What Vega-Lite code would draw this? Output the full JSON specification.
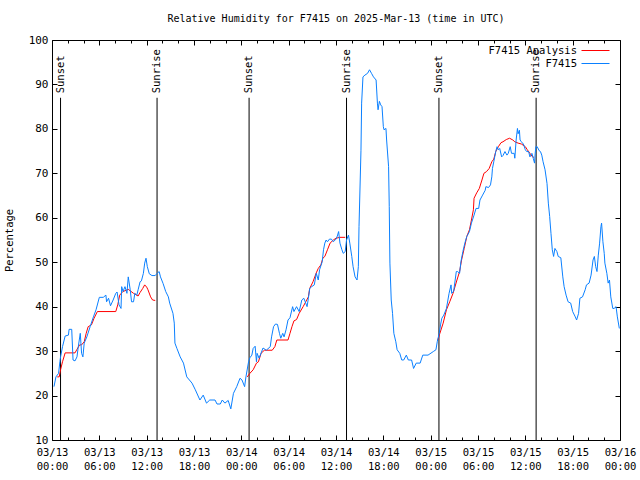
{
  "$schema": "https://vega.github.io/schema/vega-lite/v6.json",
  "width": 568,
  "height": 400,
  "autosize": "none",
  "padding": {"left": 52, "top": 40, "right": 20, "bottom": 40},
  "background": "white",
  "title": {"text": "Relative Humidity for F7415 on 2025-Mar-13 (time in UTC)", "font": "DejaVu Sans Mono", "fontSize": 10, "fontWeight": "normal", "anchor": "middle", "offset": 10, "color": "black"},
  "config": {
    "view": {"stroke": "black", "strokeWidth": 1},
    "font": "DejaVu Sans Mono",
    "axis": {"domain": false, "grid": false, "tickColor": "black", "tickWidth": 1, "labelColor": "black", "titleColor": "black", "labelFont": "DejaVu Sans Mono", "titleFont": "DejaVu Sans Mono", "labelFontSize": 10.5, "titleFontSize": 10.5, "titleFontWeight": "normal"},
    "legend": {"orient": "none", "legendX": 536, "legendY": 3, "title": null, "symbolType": "M-2,0L2,0", "symbolSize": 196, "symbolStrokeWidth": 1, "labelFont": "DejaVu Sans Mono", "labelFontSize": 10.5, "labelColor": "black", "rowPadding": -1, "padding": 0, "labelAlign": "right", "labelOffset": -26}
  },
  "datasets": {
    "sun": [
      {"t": "2025-03-13T01:05:00Z", "e": "Sunset"},
      {"t": "2025-03-13T13:19:00Z", "e": "Sunrise"},
      {"t": "2025-03-14T00:59:00Z", "e": "Sunset"},
      {"t": "2025-03-14T13:20:00Z", "e": "Sunrise"},
      {"t": "2025-03-15T01:03:00Z", "e": "Sunset"},
      {"t": "2025-03-15T13:22:00Z", "e": "Sunrise"}
    ],
    "rh": [
      {"s": "F7415 Analysis", "g": 1, "t": "2025-03-13T00:40:00Z", "v": 24.2},
      {"s": "F7415 Analysis", "g": 1, "t": "2025-03-13T00:55:00Z", "v": 24.2},
      {"s": "F7415 Analysis", "g": 1, "t": "2025-03-13T01:05:00Z", "v": 25.8},
      {"s": "F7415 Analysis", "g": 1, "t": "2025-03-13T01:20:00Z", "v": 27.6},
      {"s": "F7415 Analysis", "g": 1, "t": "2025-03-13T01:40:00Z", "v": 29.6},
      {"s": "F7415 Analysis", "g": 1, "t": "2025-03-13T02:40:00Z", "v": 29.6},
      {"s": "F7415 Analysis", "g": 1, "t": "2025-03-13T02:55:00Z", "v": 29.6},
      {"s": "F7415 Analysis", "g": 1, "t": "2025-03-13T03:10:00Z", "v": 30.4},
      {"s": "F7415 Analysis", "g": 1, "t": "2025-03-13T03:30:00Z", "v": 31.4},
      {"s": "F7415 Analysis", "g": 1, "t": "2025-03-13T03:45:00Z", "v": 31.4},
      {"s": "F7415 Analysis", "g": 1, "t": "2025-03-13T04:05:00Z", "v": 32.1},
      {"s": "F7415 Analysis", "g": 1, "t": "2025-03-13T04:20:00Z", "v": 34.0},
      {"s": "F7415 Analysis", "g": 1, "t": "2025-03-13T04:35:00Z", "v": 35.5},
      {"s": "F7415 Analysis", "g": 1, "t": "2025-03-13T05:00:00Z", "v": 35.9},
      {"s": "F7415 Analysis", "g": 1, "t": "2025-03-13T05:20:00Z", "v": 37.4},
      {"s": "F7415 Analysis", "g": 1, "t": "2025-03-13T05:45:00Z", "v": 38.9},
      {"s": "F7415 Analysis", "g": 1, "t": "2025-03-13T08:05:00Z", "v": 38.9},
      {"s": "F7415 Analysis", "g": 1, "t": "2025-03-13T08:20:00Z", "v": 40.4},
      {"s": "F7415 Analysis", "g": 1, "t": "2025-03-13T08:35:00Z", "v": 42.6},
      {"s": "F7415 Analysis", "g": 1, "t": "2025-03-13T08:50:00Z", "v": 43.1},
      {"s": "F7415 Analysis", "g": 1, "t": "2025-03-13T09:00:00Z", "v": 43.4},
      {"s": "F7415 Analysis", "g": 1, "t": "2025-03-13T09:40:00Z", "v": 43.9},
      {"s": "F7415 Analysis", "g": 1, "t": "2025-03-13T10:20:00Z", "v": 43.0},
      {"s": "F7415 Analysis", "g": 1, "t": "2025-03-13T10:55:00Z", "v": 42.4},
      {"s": "F7415 Analysis", "g": 1, "t": "2025-03-13T11:10:00Z", "v": 43.2},
      {"s": "F7415 Analysis", "g": 1, "t": "2025-03-13T11:30:00Z", "v": 44.1},
      {"s": "F7415 Analysis", "g": 1, "t": "2025-03-13T11:45:00Z", "v": 44.9},
      {"s": "F7415 Analysis", "g": 1, "t": "2025-03-13T12:00:00Z", "v": 44.4},
      {"s": "F7415 Analysis", "g": 1, "t": "2025-03-13T12:10:00Z", "v": 43.8},
      {"s": "F7415 Analysis", "g": 1, "t": "2025-03-13T12:30:00Z", "v": 42.2},
      {"s": "F7415 Analysis", "g": 1, "t": "2025-03-13T12:45:00Z", "v": 41.5},
      {"s": "F7415 Analysis", "g": 1, "t": "2025-03-13T13:05:00Z", "v": 41.4},
      {"s": "F7415 Analysis", "g": 2, "t": "2025-03-14T00:45:00Z", "v": 24.2},
      {"s": "F7415 Analysis", "g": 2, "t": "2025-03-14T01:05:00Z", "v": 25.0},
      {"s": "F7415 Analysis", "g": 2, "t": "2025-03-14T01:30:00Z", "v": 25.8},
      {"s": "F7415 Analysis", "g": 2, "t": "2025-03-14T01:55:00Z", "v": 27.3},
      {"s": "F7415 Analysis", "g": 2, "t": "2025-03-14T02:10:00Z", "v": 27.6},
      {"s": "F7415 Analysis", "g": 2, "t": "2025-03-14T02:30:00Z", "v": 29.5},
      {"s": "F7415 Analysis", "g": 2, "t": "2025-03-14T02:55:00Z", "v": 30.2},
      {"s": "F7415 Analysis", "g": 2, "t": "2025-03-14T03:55:00Z", "v": 30.2},
      {"s": "F7415 Analysis", "g": 2, "t": "2025-03-14T04:15:00Z", "v": 31.0},
      {"s": "F7415 Analysis", "g": 2, "t": "2025-03-14T04:30:00Z", "v": 32.5},
      {"s": "F7415 Analysis", "g": 2, "t": "2025-03-14T05:55:00Z", "v": 32.5},
      {"s": "F7415 Analysis", "g": 2, "t": "2025-03-14T06:10:00Z", "v": 34.0},
      {"s": "F7415 Analysis", "g": 2, "t": "2025-03-14T06:25:00Z", "v": 35.5},
      {"s": "F7415 Analysis", "g": 2, "t": "2025-03-14T06:40:00Z", "v": 36.8},
      {"s": "F7415 Analysis", "g": 2, "t": "2025-03-14T07:00:00Z", "v": 37.1},
      {"s": "F7415 Analysis", "g": 2, "t": "2025-03-14T07:20:00Z", "v": 38.5},
      {"s": "F7415 Analysis", "g": 2, "t": "2025-03-14T07:50:00Z", "v": 40.0},
      {"s": "F7415 Analysis", "g": 2, "t": "2025-03-14T08:10:00Z", "v": 41.1},
      {"s": "F7415 Analysis", "g": 2, "t": "2025-03-14T08:30:00Z", "v": 42.2},
      {"s": "F7415 Analysis", "g": 2, "t": "2025-03-14T08:40:00Z", "v": 44.1},
      {"s": "F7415 Analysis", "g": 2, "t": "2025-03-14T09:05:00Z", "v": 45.6},
      {"s": "F7415 Analysis", "g": 2, "t": "2025-03-14T09:30:00Z", "v": 47.6},
      {"s": "F7415 Analysis", "g": 2, "t": "2025-03-14T09:45:00Z", "v": 48.6},
      {"s": "F7415 Analysis", "g": 2, "t": "2025-03-14T10:05:00Z", "v": 49.4},
      {"s": "F7415 Analysis", "g": 2, "t": "2025-03-14T10:20:00Z", "v": 50.9},
      {"s": "F7415 Analysis", "g": 2, "t": "2025-03-14T10:35:00Z", "v": 51.3},
      {"s": "F7415 Analysis", "g": 2, "t": "2025-03-14T10:55:00Z", "v": 52.8},
      {"s": "F7415 Analysis", "g": 2, "t": "2025-03-14T11:15:00Z", "v": 54.3},
      {"s": "F7415 Analysis", "g": 2, "t": "2025-03-14T11:40:00Z", "v": 55.0},
      {"s": "F7415 Analysis", "g": 2, "t": "2025-03-14T12:00:00Z", "v": 55.4},
      {"s": "F7415 Analysis", "g": 2, "t": "2025-03-14T12:30:00Z", "v": 55.6},
      {"s": "F7415 Analysis", "g": 2, "t": "2025-03-14T13:10:00Z", "v": 55.6},
      {"s": "F7415 Analysis", "g": 3, "t": "2025-03-15T00:55:00Z", "v": 32.5},
      {"s": "F7415 Analysis", "g": 3, "t": "2025-03-15T01:10:00Z", "v": 34.0},
      {"s": "F7415 Analysis", "g": 3, "t": "2025-03-15T01:35:00Z", "v": 36.3},
      {"s": "F7415 Analysis", "g": 3, "t": "2025-03-15T02:00:00Z", "v": 39.3},
      {"s": "F7415 Analysis", "g": 3, "t": "2025-03-15T02:25:00Z", "v": 41.1},
      {"s": "F7415 Analysis", "g": 3, "t": "2025-03-15T02:50:00Z", "v": 43.0},
      {"s": "F7415 Analysis", "g": 3, "t": "2025-03-15T03:20:00Z", "v": 46.0},
      {"s": "F7415 Analysis", "g": 3, "t": "2025-03-15T03:40:00Z", "v": 47.9},
      {"s": "F7415 Analysis", "g": 3, "t": "2025-03-15T03:55:00Z", "v": 50.5},
      {"s": "F7415 Analysis", "g": 3, "t": "2025-03-15T04:15:00Z", "v": 53.1},
      {"s": "F7415 Analysis", "g": 3, "t": "2025-03-15T04:35:00Z", "v": 55.8},
      {"s": "F7415 Analysis", "g": 3, "t": "2025-03-15T04:55:00Z", "v": 57.3},
      {"s": "F7415 Analysis", "g": 3, "t": "2025-03-15T05:10:00Z", "v": 59.5},
      {"s": "F7415 Analysis", "g": 3, "t": "2025-03-15T05:25:00Z", "v": 61.8},
      {"s": "F7415 Analysis", "g": 3, "t": "2025-03-15T05:30:00Z", "v": 64.4},
      {"s": "F7415 Analysis", "g": 3, "t": "2025-03-15T05:50:00Z", "v": 65.6},
      {"s": "F7415 Analysis", "g": 3, "t": "2025-03-15T06:10:00Z", "v": 66.6},
      {"s": "F7415 Analysis", "g": 3, "t": "2025-03-15T06:30:00Z", "v": 68.5},
      {"s": "F7415 Analysis", "g": 3, "t": "2025-03-15T06:45:00Z", "v": 70.0},
      {"s": "F7415 Analysis", "g": 3, "t": "2025-03-15T07:05:00Z", "v": 70.4},
      {"s": "F7415 Analysis", "g": 3, "t": "2025-03-15T07:25:00Z", "v": 71.1},
      {"s": "F7415 Analysis", "g": 3, "t": "2025-03-15T07:45:00Z", "v": 72.6},
      {"s": "F7415 Analysis", "g": 3, "t": "2025-03-15T08:00:00Z", "v": 73.2},
      {"s": "F7415 Analysis", "g": 3, "t": "2025-03-15T08:15:00Z", "v": 74.9},
      {"s": "F7415 Analysis", "g": 3, "t": "2025-03-15T08:35:00Z", "v": 76.0},
      {"s": "F7415 Analysis", "g": 3, "t": "2025-03-15T08:55:00Z", "v": 76.9},
      {"s": "F7415 Analysis", "g": 3, "t": "2025-03-15T09:10:00Z", "v": 77.1},
      {"s": "F7415 Analysis", "g": 3, "t": "2025-03-15T09:35:00Z", "v": 77.6},
      {"s": "F7415 Analysis", "g": 3, "t": "2025-03-15T10:00:00Z", "v": 77.9},
      {"s": "F7415 Analysis", "g": 3, "t": "2025-03-15T10:25:00Z", "v": 77.5},
      {"s": "F7415 Analysis", "g": 3, "t": "2025-03-15T10:40:00Z", "v": 77.1},
      {"s": "F7415 Analysis", "g": 3, "t": "2025-03-15T11:05:00Z", "v": 76.8},
      {"s": "F7415 Analysis", "g": 3, "t": "2025-03-15T11:30:00Z", "v": 76.6},
      {"s": "F7415 Analysis", "g": 3, "t": "2025-03-15T12:00:00Z", "v": 76.0},
      {"s": "F7415 Analysis", "g": 3, "t": "2025-03-15T12:15:00Z", "v": 75.3},
      {"s": "F7415 Analysis", "g": 3, "t": "2025-03-15T12:35:00Z", "v": 74.5},
      {"s": "F7415 Analysis", "g": 3, "t": "2025-03-15T12:55:00Z", "v": 73.7},
      {"s": "F7415 Analysis", "g": 3, "t": "2025-03-15T13:05:00Z", "v": 73.6},
      {"s": "F7415", "g": 0, "t": "2025-03-13T00:15:00Z", "v": 22.0}, {"s": "F7415", "g": 0, "t": "2025-03-13T00:30:00Z", "v": 24.2}, {"s": "F7415", "g": 0, "t": "2025-03-13T00:50:00Z", "v": 25.0},
      {"s": "F7415", "g": 0, "t": "2025-03-13T01:00:00Z", "v": 27.6}, {"s": "F7415", "g": 0, "t": "2025-03-13T01:05:00Z", "v": 28.7}, {"s": "F7415", "g": 0, "t": "2025-03-13T01:20:00Z", "v": 31.0},
      {"s": "F7415", "g": 0, "t": "2025-03-13T01:40:00Z", "v": 33.4}, {"s": "F7415", "g": 0, "t": "2025-03-13T02:05:00Z", "v": 33.6}, {"s": "F7415", "g": 0, "t": "2025-03-13T02:10:00Z", "v": 34.9},
      {"s": "F7415", "g": 0, "t": "2025-03-13T02:30:00Z", "v": 34.9}, {"s": "F7415", "g": 0, "t": "2025-03-13T02:40:00Z", "v": 28.0}, {"s": "F7415", "g": 0, "t": "2025-03-13T02:55:00Z", "v": 27.8},
      {"s": "F7415", "g": 0, "t": "2025-03-13T03:10:00Z", "v": 28.7}, {"s": "F7415", "g": 0, "t": "2025-03-13T03:20:00Z", "v": 31.0}, {"s": "F7415", "g": 0, "t": "2025-03-13T03:35:00Z", "v": 34.0},
      {"s": "F7415", "g": 0, "t": "2025-03-13T03:45:00Z", "v": 29.5}, {"s": "F7415", "g": 0, "t": "2025-03-13T03:55:00Z", "v": 28.7}, {"s": "F7415", "g": 0, "t": "2025-03-13T04:05:00Z", "v": 31.8},
      {"s": "F7415", "g": 0, "t": "2025-03-13T04:25:00Z", "v": 33.2}, {"s": "F7415", "g": 0, "t": "2025-03-13T04:50:00Z", "v": 35.5}, {"s": "F7415", "g": 0, "t": "2025-03-13T05:15:00Z", "v": 37.7},
      {"s": "F7415", "g": 0, "t": "2025-03-13T05:35:00Z", "v": 39.3}, {"s": "F7415", "g": 0, "t": "2025-03-13T06:00:00Z", "v": 42.1}, {"s": "F7415", "g": 0, "t": "2025-03-13T06:30:00Z", "v": 42.1},
      {"s": "F7415", "g": 0, "t": "2025-03-13T06:50:00Z", "v": 42.6}, {"s": "F7415", "g": 0, "t": "2025-03-13T06:55:00Z", "v": 41.1}, {"s": "F7415", "g": 0, "t": "2025-03-13T07:10:00Z", "v": 41.9},
      {"s": "F7415", "g": 0, "t": "2025-03-13T07:25:00Z", "v": 40.2}, {"s": "F7415", "g": 0, "t": "2025-03-13T07:45:00Z", "v": 41.5}, {"s": "F7415", "g": 0, "t": "2025-03-13T08:05:00Z", "v": 43.0},
      {"s": "F7415", "g": 0, "t": "2025-03-13T08:15:00Z", "v": 43.3}, {"s": "F7415", "g": 0, "t": "2025-03-13T08:30:00Z", "v": 40.4}, {"s": "F7415", "g": 0, "t": "2025-03-13T08:45:00Z", "v": 39.6},
      {"s": "F7415", "g": 0, "t": "2025-03-13T08:50:00Z", "v": 44.5}, {"s": "F7415", "g": 0, "t": "2025-03-13T09:00:00Z", "v": 43.4}, {"s": "F7415", "g": 0, "t": "2025-03-13T09:15:00Z", "v": 44.5},
      {"s": "F7415", "g": 0, "t": "2025-03-13T09:30:00Z", "v": 43.0}, {"s": "F7415", "g": 0, "t": "2025-03-13T09:40:00Z", "v": 46.7}, {"s": "F7415", "g": 0, "t": "2025-03-13T09:55:00Z", "v": 43.8},
      {"s": "F7415", "g": 0, "t": "2025-03-13T10:05:00Z", "v": 41.1}, {"s": "F7415", "g": 0, "t": "2025-03-13T10:20:00Z", "v": 41.1}, {"s": "F7415", "g": 0, "t": "2025-03-13T10:30:00Z", "v": 43.0},
      {"s": "F7415", "g": 0, "t": "2025-03-13T10:45:00Z", "v": 42.6}, {"s": "F7415", "g": 0, "t": "2025-03-13T10:55:00Z", "v": 43.8}, {"s": "F7415", "g": 0, "t": "2025-03-13T11:10:00Z", "v": 45.6},
      {"s": "F7415", "g": 0, "t": "2025-03-13T11:20:00Z", "v": 45.8}, {"s": "F7415", "g": 0, "t": "2025-03-13T11:35:00Z", "v": 47.5}, {"s": "F7415", "g": 0, "t": "2025-03-13T11:45:00Z", "v": 49.8},
      {"s": "F7415", "g": 0, "t": "2025-03-13T11:55:00Z", "v": 50.9}, {"s": "F7415", "g": 0, "t": "2025-03-13T12:05:00Z", "v": 49.0}, {"s": "F7415", "g": 0, "t": "2025-03-13T12:20:00Z", "v": 47.4},
      {"s": "F7415", "g": 0, "t": "2025-03-13T12:40:00Z", "v": 47.0}, {"s": "F7415", "g": 0, "t": "2025-03-13T13:05:00Z", "v": 47.0}, {"s": "F7415", "g": 0, "t": "2025-03-13T13:20:00Z", "v": 47.5},
      {"s": "F7415", "g": 0, "t": "2025-03-13T13:35:00Z", "v": 47.9}, {"s": "F7415", "g": 0, "t": "2025-03-13T13:45:00Z", "v": 46.7}, {"s": "F7415", "g": 0, "t": "2025-03-13T14:05:00Z", "v": 45.2},
      {"s": "F7415", "g": 0, "t": "2025-03-13T14:25:00Z", "v": 43.4}, {"s": "F7415", "g": 0, "t": "2025-03-13T14:45:00Z", "v": 42.2}, {"s": "F7415", "g": 0, "t": "2025-03-13T14:55:00Z", "v": 40.8},
      {"s": "F7415", "g": 0, "t": "2025-03-13T15:20:00Z", "v": 38.5}, {"s": "F7415", "g": 0, "t": "2025-03-13T15:30:00Z", "v": 36.3}, {"s": "F7415", "g": 0, "t": "2025-03-13T15:35:00Z", "v": 31.8},
      {"s": "F7415", "g": 0, "t": "2025-03-13T15:50:00Z", "v": 30.6}, {"s": "F7415", "g": 0, "t": "2025-03-13T16:15:00Z", "v": 28.7}, {"s": "F7415", "g": 0, "t": "2025-03-13T16:40:00Z", "v": 27.3},
      {"s": "F7415", "g": 0, "t": "2025-03-13T17:05:00Z", "v": 24.2}, {"s": "F7415", "g": 0, "t": "2025-03-13T17:45:00Z", "v": 22.8}, {"s": "F7415", "g": 0, "t": "2025-03-13T18:10:00Z", "v": 21.3},
      {"s": "F7415", "g": 0, "t": "2025-03-13T18:45:00Z", "v": 19.0}, {"s": "F7415", "g": 0, "t": "2025-03-13T19:10:00Z", "v": 20.1}, {"s": "F7415", "g": 0, "t": "2025-03-13T19:35:00Z", "v": 18.3},
      {"s": "F7415", "g": 0, "t": "2025-03-13T20:00:00Z", "v": 19.0}, {"s": "F7415", "g": 0, "t": "2025-03-13T20:40:00Z", "v": 19.0}, {"s": "F7415", "g": 0, "t": "2025-03-13T20:55:00Z", "v": 18.1},
      {"s": "F7415", "g": 0, "t": "2025-03-13T21:20:00Z", "v": 18.1}, {"s": "F7415", "g": 0, "t": "2025-03-13T21:35:00Z", "v": 19.0}, {"s": "F7415", "g": 0, "t": "2025-03-13T21:55:00Z", "v": 18.3},
      {"s": "F7415", "g": 0, "t": "2025-03-13T22:20:00Z", "v": 18.9}, {"s": "F7415", "g": 0, "t": "2025-03-13T22:40:00Z", "v": 17.0}, {"s": "F7415", "g": 0, "t": "2025-03-13T23:00:00Z", "v": 20.5},
      {"s": "F7415", "g": 0, "t": "2025-03-13T23:25:00Z", "v": 22.0}, {"s": "F7415", "g": 0, "t": "2025-03-13T23:50:00Z", "v": 23.9}, {"s": "F7415", "g": 0, "t": "2025-03-14T00:05:00Z", "v": 23.5},
      {"s": "F7415", "g": 0, "t": "2025-03-14T00:25:00Z", "v": 22.0}, {"s": "F7415", "g": 0, "t": "2025-03-14T00:35:00Z", "v": 24.2}, {"s": "F7415", "g": 0, "t": "2025-03-14T00:55:00Z", "v": 27.6},
      {"s": "F7415", "g": 0, "t": "2025-03-14T01:05:00Z", "v": 28.5}, {"s": "F7415", "g": 0, "t": "2025-03-14T01:20:00Z", "v": 29.1}, {"s": "F7415", "g": 0, "t": "2025-03-14T01:30:00Z", "v": 30.6},
      {"s": "F7415", "g": 0, "t": "2025-03-14T01:45:00Z", "v": 31.1}, {"s": "F7415", "g": 0, "t": "2025-03-14T01:55:00Z", "v": 27.6}, {"s": "F7415", "g": 0, "t": "2025-03-14T02:00:00Z", "v": 29.5},
      {"s": "F7415", "g": 0, "t": "2025-03-14T02:15:00Z", "v": 28.4}, {"s": "F7415", "g": 0, "t": "2025-03-14T02:45:00Z", "v": 30.7}, {"s": "F7415", "g": 0, "t": "2025-03-14T03:10:00Z", "v": 30.2},
      {"s": "F7415", "g": 0, "t": "2025-03-14T03:40:00Z", "v": 31.0}, {"s": "F7415", "g": 0, "t": "2025-03-14T03:50:00Z", "v": 33.2}, {"s": "F7415", "g": 0, "t": "2025-03-14T04:05:00Z", "v": 35.5},
      {"s": "F7415", "g": 0, "t": "2025-03-14T04:20:00Z", "v": 36.1}, {"s": "F7415", "g": 0, "t": "2025-03-14T04:35:00Z", "v": 36.0}, {"s": "F7415", "g": 0, "t": "2025-03-14T04:50:00Z", "v": 34.0},
      {"s": "F7415", "g": 0, "t": "2025-03-14T05:00:00Z", "v": 32.9}, {"s": "F7415", "g": 0, "t": "2025-03-14T05:15:00Z", "v": 34.0}, {"s": "F7415", "g": 0, "t": "2025-03-14T05:25:00Z", "v": 33.2},
      {"s": "F7415", "g": 0, "t": "2025-03-14T05:40:00Z", "v": 34.8}, {"s": "F7415", "g": 0, "t": "2025-03-14T05:55:00Z", "v": 37.0}, {"s": "F7415", "g": 0, "t": "2025-03-14T06:10:00Z", "v": 37.5},
      {"s": "F7415", "g": 0, "t": "2025-03-14T06:30:00Z", "v": 40.0}, {"s": "F7415", "g": 0, "t": "2025-03-14T06:40:00Z", "v": 38.9}, {"s": "F7415", "g": 0, "t": "2025-03-14T07:00:00Z", "v": 40.0},
      {"s": "F7415", "g": 0, "t": "2025-03-14T07:20:00Z", "v": 38.9}, {"s": "F7415", "g": 0, "t": "2025-03-14T07:40:00Z", "v": 41.5}, {"s": "F7415", "g": 0, "t": "2025-03-14T07:55:00Z", "v": 41.9},
      {"s": "F7415", "g": 0, "t": "2025-03-14T08:10:00Z", "v": 40.8}, {"s": "F7415", "g": 0, "t": "2025-03-14T08:20:00Z", "v": 40.0}, {"s": "F7415", "g": 0, "t": "2025-03-14T08:30:00Z", "v": 41.9},
      {"s": "F7415", "g": 0, "t": "2025-03-14T08:40:00Z", "v": 44.1}, {"s": "F7415", "g": 0, "t": "2025-03-14T08:55:00Z", "v": 44.5}, {"s": "F7415", "g": 0, "t": "2025-03-14T09:15:00Z", "v": 44.9},
      {"s": "F7415", "g": 0, "t": "2025-03-14T09:30:00Z", "v": 47.5}, {"s": "F7415", "g": 0, "t": "2025-03-14T09:45:00Z", "v": 46.0}, {"s": "F7415", "g": 0, "t": "2025-03-14T09:55:00Z", "v": 48.3},
      {"s": "F7415", "g": 0, "t": "2025-03-14T10:15:00Z", "v": 50.1}, {"s": "F7415", "g": 0, "t": "2025-03-14T10:25:00Z", "v": 52.8}, {"s": "F7415", "g": 0, "t": "2025-03-14T10:35:00Z", "v": 54.3},
      {"s": "F7415", "g": 0, "t": "2025-03-14T10:45:00Z", "v": 55.0}, {"s": "F7415", "g": 0, "t": "2025-03-14T10:55:00Z", "v": 54.6}, {"s": "F7415", "g": 0, "t": "2025-03-14T11:10:00Z", "v": 55.2},
      {"s": "F7415", "g": 0, "t": "2025-03-14T11:25:00Z", "v": 55.2}, {"s": "F7415", "g": 0, "t": "2025-03-14T11:40:00Z", "v": 54.6}, {"s": "F7415", "g": 0, "t": "2025-03-14T12:00:00Z", "v": 55.2},
      {"s": "F7415", "g": 0, "t": "2025-03-14T12:10:00Z", "v": 55.9}, {"s": "F7415", "g": 0, "t": "2025-03-14T12:20:00Z", "v": 56.9}, {"s": "F7415", "g": 0, "t": "2025-03-14T12:30:00Z", "v": 54.3},
      {"s": "F7415", "g": 0, "t": "2025-03-14T12:45:00Z", "v": 52.8}, {"s": "F7415", "g": 0, "t": "2025-03-14T12:55:00Z", "v": 52.0}, {"s": "F7415", "g": 0, "t": "2025-03-14T13:10:00Z", "v": 52.4},
      {"s": "F7415", "g": 0, "t": "2025-03-14T13:20:00Z", "v": 55.0}, {"s": "F7415", "g": 0, "t": "2025-03-14T13:35:00Z", "v": 56.1}, {"s": "F7415", "g": 0, "t": "2025-03-14T13:45:00Z", "v": 54.3},
      {"s": "F7415", "g": 0, "t": "2025-03-14T14:00:00Z", "v": 51.3}, {"s": "F7415", "g": 0, "t": "2025-03-14T14:10:00Z", "v": 49.0}, {"s": "F7415", "g": 0, "t": "2025-03-14T14:25:00Z", "v": 46.7},
      {"s": "F7415", "g": 0, "t": "2025-03-14T14:40:00Z", "v": 46.0}, {"s": "F7415", "g": 0, "t": "2025-03-14T14:50:00Z", "v": 49.0}, {"s": "F7415", "g": 0, "t": "2025-03-14T14:55:00Z", "v": 58.0},
      {"s": "F7415", "g": 0, "t": "2025-03-14T15:10:00Z", "v": 75.2}, {"s": "F7415", "g": 0, "t": "2025-03-14T15:15:00Z", "v": 85.8}, {"s": "F7415", "g": 0, "t": "2025-03-14T15:25:00Z", "v": 91.7},
      {"s": "F7415", "g": 0, "t": "2025-03-14T15:40:00Z", "v": 92.1}, {"s": "F7415", "g": 0, "t": "2025-03-14T16:00:00Z", "v": 92.5}, {"s": "F7415", "g": 0, "t": "2025-03-14T16:15:00Z", "v": 93.3},
      {"s": "F7415", "g": 0, "t": "2025-03-14T16:30:00Z", "v": 92.5}, {"s": "F7415", "g": 0, "t": "2025-03-14T16:45:00Z", "v": 91.7}, {"s": "F7415", "g": 0, "t": "2025-03-14T17:05:00Z", "v": 91.0},
      {"s": "F7415", "g": 0, "t": "2025-03-14T17:15:00Z", "v": 85.8}, {"s": "F7415", "g": 0, "t": "2025-03-14T17:20:00Z", "v": 84.3}, {"s": "F7415", "g": 0, "t": "2025-03-14T17:30:00Z", "v": 86.2},
      {"s": "F7415", "g": 0, "t": "2025-03-14T17:40:00Z", "v": 85.4}, {"s": "F7415", "g": 0, "t": "2025-03-14T17:50:00Z", "v": 85.0}, {"s": "F7415", "g": 0, "t": "2025-03-14T18:00:00Z", "v": 80.5},
      {"s": "F7415", "g": 0, "t": "2025-03-14T18:05:00Z", "v": 79.8}, {"s": "F7415", "g": 0, "t": "2025-03-14T18:20:00Z", "v": 80.1}, {"s": "F7415", "g": 0, "t": "2025-03-14T18:25:00Z", "v": 77.5},
      {"s": "F7415", "g": 0, "t": "2025-03-14T18:40:00Z", "v": 71.5}, {"s": "F7415", "g": 0, "t": "2025-03-14T18:45:00Z", "v": 62.5}, {"s": "F7415", "g": 0, "t": "2025-03-14T18:50:00Z", "v": 49.8},
      {"s": "F7415", "g": 0, "t": "2025-03-14T19:00:00Z", "v": 41.5}, {"s": "F7415", "g": 0, "t": "2025-03-14T19:10:00Z", "v": 38.5}, {"s": "F7415", "g": 0, "t": "2025-03-14T19:20:00Z", "v": 34.0},
      {"s": "F7415", "g": 0, "t": "2025-03-14T19:35:00Z", "v": 32.1}, {"s": "F7415", "g": 0, "t": "2025-03-14T19:45:00Z", "v": 30.3}, {"s": "F7415", "g": 0, "t": "2025-03-14T20:05:00Z", "v": 29.5},
      {"s": "F7415", "g": 0, "t": "2025-03-14T20:20:00Z", "v": 28.0}, {"s": "F7415", "g": 0, "t": "2025-03-14T20:35:00Z", "v": 28.0}, {"s": "F7415", "g": 0, "t": "2025-03-14T20:55:00Z", "v": 29.1},
      {"s": "F7415", "g": 0, "t": "2025-03-14T21:10:00Z", "v": 28.0}, {"s": "F7415", "g": 0, "t": "2025-03-14T21:35:00Z", "v": 28.0}, {"s": "F7415", "g": 0, "t": "2025-03-14T21:50:00Z", "v": 26.1},
      {"s": "F7415", "g": 0, "t": "2025-03-14T22:10:00Z", "v": 27.3}, {"s": "F7415", "g": 0, "t": "2025-03-14T22:40:00Z", "v": 27.3}, {"s": "F7415", "g": 0, "t": "2025-03-14T23:00:00Z", "v": 29.1},
      {"s": "F7415", "g": 0, "t": "2025-03-14T23:40:00Z", "v": 29.1}, {"s": "F7415", "g": 0, "t": "2025-03-15T00:20:00Z", "v": 29.9}, {"s": "F7415", "g": 0, "t": "2025-03-15T00:40:00Z", "v": 30.3},
      {"s": "F7415", "g": 0, "t": "2025-03-15T00:50:00Z", "v": 32.1}, {"s": "F7415", "g": 0, "t": "2025-03-15T01:05:00Z", "v": 34.0}, {"s": "F7415", "g": 0, "t": "2025-03-15T01:15:00Z", "v": 35.9},
      {"s": "F7415", "g": 0, "t": "2025-03-15T01:25:00Z", "v": 37.4}, {"s": "F7415", "g": 0, "t": "2025-03-15T01:40:00Z", "v": 38.1}, {"s": "F7415", "g": 0, "t": "2025-03-15T02:00:00Z", "v": 39.6},
      {"s": "F7415", "g": 0, "t": "2025-03-15T02:20:00Z", "v": 43.0}, {"s": "F7415", "g": 0, "t": "2025-03-15T02:35:00Z", "v": 44.9}, {"s": "F7415", "g": 0, "t": "2025-03-15T02:40:00Z", "v": 43.0},
      {"s": "F7415", "g": 0, "t": "2025-03-15T02:55:00Z", "v": 43.5}, {"s": "F7415", "g": 0, "t": "2025-03-15T03:15:00Z", "v": 47.9}, {"s": "F7415", "g": 0, "t": "2025-03-15T03:25:00Z", "v": 47.9},
      {"s": "F7415", "g": 0, "t": "2025-03-15T03:40:00Z", "v": 47.5}, {"s": "F7415", "g": 0, "t": "2025-03-15T03:50:00Z", "v": 50.1}, {"s": "F7415", "g": 0, "t": "2025-03-15T04:05:00Z", "v": 52.4},
      {"s": "F7415", "g": 0, "t": "2025-03-15T04:20:00Z", "v": 54.3}, {"s": "F7415", "g": 0, "t": "2025-03-15T04:35:00Z", "v": 55.8}, {"s": "F7415", "g": 0, "t": "2025-03-15T04:55:00Z", "v": 56.9},
      {"s": "F7415", "g": 0, "t": "2025-03-15T05:10:00Z", "v": 58.8}, {"s": "F7415", "g": 0, "t": "2025-03-15T05:30:00Z", "v": 60.6}, {"s": "F7415", "g": 0, "t": "2025-03-15T05:45:00Z", "v": 62.1},
      {"s": "F7415", "g": 0, "t": "2025-03-15T06:05:00Z", "v": 62.1}, {"s": "F7415", "g": 0, "t": "2025-03-15T06:15:00Z", "v": 64.0}, {"s": "F7415", "g": 0, "t": "2025-03-15T06:35:00Z", "v": 65.1},
      {"s": "F7415", "g": 0, "t": "2025-03-15T06:55:00Z", "v": 66.2}, {"s": "F7415", "g": 0, "t": "2025-03-15T07:00:00Z", "v": 67.0}, {"s": "F7415", "g": 0, "t": "2025-03-15T07:20:00Z", "v": 66.8},
      {"s": "F7415", "g": 0, "t": "2025-03-15T07:35:00Z", "v": 67.4}, {"s": "F7415", "g": 0, "t": "2025-03-15T07:45:00Z", "v": 69.2}, {"s": "F7415", "g": 0, "t": "2025-03-15T07:50:00Z", "v": 71.1},
      {"s": "F7415", "g": 0, "t": "2025-03-15T08:00:00Z", "v": 72.6}, {"s": "F7415", "g": 0, "t": "2025-03-15T08:15:00Z", "v": 74.9}, {"s": "F7415", "g": 0, "t": "2025-03-15T08:25:00Z", "v": 76.0},
      {"s": "F7415", "g": 0, "t": "2025-03-15T08:35:00Z", "v": 75.3}, {"s": "F7415", "g": 0, "t": "2025-03-15T08:45:00Z", "v": 75.6}, {"s": "F7415", "g": 0, "t": "2025-03-15T09:00:00Z", "v": 73.7},
      {"s": "F7415", "g": 0, "t": "2025-03-15T09:10:00Z", "v": 74.0}, {"s": "F7415", "g": 0, "t": "2025-03-15T09:25:00Z", "v": 74.9}, {"s": "F7415", "g": 0, "t": "2025-03-15T09:40:00Z", "v": 74.1},
      {"s": "F7415", "g": 0, "t": "2025-03-15T09:50:00Z", "v": 74.5}, {"s": "F7415", "g": 0, "t": "2025-03-15T10:05:00Z", "v": 76.0}, {"s": "F7415", "g": 0, "t": "2025-03-15T10:15:00Z", "v": 74.5},
      {"s": "F7415", "g": 0, "t": "2025-03-15T10:35:00Z", "v": 74.5}, {"s": "F7415", "g": 0, "t": "2025-03-15T10:40:00Z", "v": 73.4}, {"s": "F7415", "g": 0, "t": "2025-03-15T10:50:00Z", "v": 77.5},
      {"s": "F7415", "g": 0, "t": "2025-03-15T11:00:00Z", "v": 80.1}, {"s": "F7415", "g": 0, "t": "2025-03-15T11:05:00Z", "v": 78.9}, {"s": "F7415", "g": 0, "t": "2025-03-15T11:15:00Z", "v": 79.7},
      {"s": "F7415", "g": 0, "t": "2025-03-15T11:20:00Z", "v": 77.5}, {"s": "F7415", "g": 0, "t": "2025-03-15T11:30:00Z", "v": 77.1}, {"s": "F7415", "g": 0, "t": "2025-03-15T11:45:00Z", "v": 76.6},
      {"s": "F7415", "g": 0, "t": "2025-03-15T12:00:00Z", "v": 75.3}, {"s": "F7415", "g": 0, "t": "2025-03-15T12:10:00Z", "v": 74.9}, {"s": "F7415", "g": 0, "t": "2025-03-15T12:25:00Z", "v": 74.9},
      {"s": "F7415", "g": 0, "t": "2025-03-15T12:35:00Z", "v": 73.7}, {"s": "F7415", "g": 0, "t": "2025-03-15T12:50:00Z", "v": 74.5}, {"s": "F7415", "g": 0, "t": "2025-03-15T13:00:00Z", "v": 73.4},
      {"s": "F7415", "g": 0, "t": "2025-03-15T13:10:00Z", "v": 72.3}, {"s": "F7415", "g": 0, "t": "2025-03-15T13:15:00Z", "v": 74.5}, {"s": "F7415", "g": 0, "t": "2025-03-15T13:20:00Z", "v": 76.0},
      {"s": "F7415", "g": 0, "t": "2025-03-15T13:30:00Z", "v": 76.0}, {"s": "F7415", "g": 0, "t": "2025-03-15T13:45:00Z", "v": 75.1}, {"s": "F7415", "g": 0, "t": "2025-03-15T13:55:00Z", "v": 74.9},
      {"s": "F7415", "g": 0, "t": "2025-03-15T14:05:00Z", "v": 74.1}, {"s": "F7415", "g": 0, "t": "2025-03-15T14:15:00Z", "v": 72.6}, {"s": "F7415", "g": 0, "t": "2025-03-15T14:30:00Z", "v": 70.8},
      {"s": "F7415", "g": 0, "t": "2025-03-15T14:45:00Z", "v": 67.7}, {"s": "F7415", "g": 0, "t": "2025-03-15T14:55:00Z", "v": 63.3}, {"s": "F7415", "g": 0, "t": "2025-03-15T15:05:00Z", "v": 60.3},
      {"s": "F7415", "g": 0, "t": "2025-03-15T15:15:00Z", "v": 56.5}, {"s": "F7415", "g": 0, "t": "2025-03-15T15:25:00Z", "v": 52.8}, {"s": "F7415", "g": 0, "t": "2025-03-15T15:35:00Z", "v": 51.3},
      {"s": "F7415", "g": 0, "t": "2025-03-15T15:45:00Z", "v": 53.1}, {"s": "F7415", "g": 0, "t": "2025-03-15T16:00:00Z", "v": 52.4}, {"s": "F7415", "g": 0, "t": "2025-03-15T16:10:00Z", "v": 51.3},
      {"s": "F7415", "g": 0, "t": "2025-03-15T16:30:00Z", "v": 51.0}, {"s": "F7415", "g": 0, "t": "2025-03-15T16:45:00Z", "v": 46.7}, {"s": "F7415", "g": 0, "t": "2025-03-15T16:55:00Z", "v": 44.5},
      {"s": "F7415", "g": 0, "t": "2025-03-15T17:10:00Z", "v": 42.6}, {"s": "F7415", "g": 0, "t": "2025-03-15T17:25:00Z", "v": 41.1}, {"s": "F7415", "g": 0, "t": "2025-03-15T17:45:00Z", "v": 40.8},
      {"s": "F7415", "g": 0, "t": "2025-03-15T18:00:00Z", "v": 38.9}, {"s": "F7415", "g": 0, "t": "2025-03-15T18:20:00Z", "v": 37.7}, {"s": "F7415", "g": 0, "t": "2025-03-15T18:30:00Z", "v": 37.0},
      {"s": "F7415", "g": 0, "t": "2025-03-15T18:45:00Z", "v": 38.5}, {"s": "F7415", "g": 0, "t": "2025-03-15T18:55:00Z", "v": 41.9}, {"s": "F7415", "g": 0, "t": "2025-03-15T19:15:00Z", "v": 42.2},
      {"s": "F7415", "g": 0, "t": "2025-03-15T19:35:00Z", "v": 43.8}, {"s": "F7415", "g": 0, "t": "2025-03-15T19:45:00Z", "v": 44.9}, {"s": "F7415", "g": 0, "t": "2025-03-15T20:05:00Z", "v": 45.3},
      {"s": "F7415", "g": 0, "t": "2025-03-15T20:20:00Z", "v": 47.1}, {"s": "F7415", "g": 0, "t": "2025-03-15T20:35:00Z", "v": 50.5}, {"s": "F7415", "g": 0, "t": "2025-03-15T20:45:00Z", "v": 51.3},
      {"s": "F7415", "g": 0, "t": "2025-03-15T20:55:00Z", "v": 49.0}, {"s": "F7415", "g": 0, "t": "2025-03-15T21:05:00Z", "v": 47.9}, {"s": "F7415", "g": 0, "t": "2025-03-15T21:15:00Z", "v": 51.6},
      {"s": "F7415", "g": 0, "t": "2025-03-15T21:25:00Z", "v": 54.3}, {"s": "F7415", "g": 0, "t": "2025-03-15T21:35:00Z", "v": 58.0}, {"s": "F7415", "g": 0, "t": "2025-03-15T21:40:00Z", "v": 58.8},
      {"s": "F7415", "g": 0, "t": "2025-03-15T21:50:00Z", "v": 54.6}, {"s": "F7415", "g": 0, "t": "2025-03-15T22:00:00Z", "v": 52.0}, {"s": "F7415", "g": 0, "t": "2025-03-15T22:05:00Z", "v": 49.8},
      {"s": "F7415", "g": 0, "t": "2025-03-15T22:20:00Z", "v": 47.5}, {"s": "F7415", "g": 0, "t": "2025-03-15T22:30:00Z", "v": 45.3}, {"s": "F7415", "g": 0, "t": "2025-03-15T22:40:00Z", "v": 46.0},
      {"s": "F7415", "g": 0, "t": "2025-03-15T22:50:00Z", "v": 42.2}, {"s": "F7415", "g": 0, "t": "2025-03-15T23:05:00Z", "v": 39.6}, {"s": "F7415", "g": 0, "t": "2025-03-15T23:15:00Z", "v": 39.6},
      {"s": "F7415", "g": 0, "t": "2025-03-15T23:30:00Z", "v": 40.0}, {"s": "F7415", "g": 0, "t": "2025-03-15T23:40:00Z", "v": 37.7}, {"s": "F7415", "g": 0, "t": "2025-03-15T23:55:00Z", "v": 35.1}
    ]
  },
  "layer": [
    {
      "layer": [
        {
          "data": {"name": "sun"},
          "mark": {"type": "rule", "color": "black", "strokeWidth": 1},
          "encoding": {
            "x": {"field": "t", "type": "temporal", "scale": {"type": "utc", "domain": [{"year": 2025, "month": 3, "date": 13, "utc": true}, {"year": 2025, "month": 3, "date": 16, "utc": true}]}},
            "y": {"datum": 10, "type": "quantitative", "scale": {"domain": [10, 100], "nice": false, "zero": false}},
            "y2": {"datum": 87}
          }
        },
        {
          "data": {"name": "sun"},
          "mark": {"type": "text", "angle": 270, "align": "left", "baseline": "middle", "font": "DejaVu Sans Mono", "fontSize": 10.5, "color": "black"},
          "encoding": {
            "x": {"field": "t", "type": "temporal"},
            "y": {"datum": 88, "type": "quantitative"},
            "text": {"field": "e"}
          }
        },
        {
          "data": {"name": "rh"},
          "transform": [{"filter": "datum.s == 'F7415 Analysis'"}],
          "mark": {"type": "line", "strokeWidth": 1},
          "encoding": {
            "x": {"field": "t", "type": "temporal", "axis": {"orient": "bottom", "title": null,
              "values": [1741824000000, 1741831200000, 1741838400000, 1741845600000, 1741852800000, 1741860000000, 1741867200000, 1741874400000, 1741881600000, 1741888800000, 1741896000000, 1741903200000, 1741910400000, 1741917600000, 1741924800000, 1741932000000, 1741939200000, 1741946400000, 1741953600000, 1741960800000, 1741968000000, 1741975200000, 1741982400000, 1741989600000, 1741996800000, 1742004000000, 1742011200000, 1742018400000, 1742025600000, 1742032800000, 1742040000000, 1742047200000, 1742054400000, 1742061600000, 1742068800000, 1742076000000, 1742083200000],
              "tickCount": 40,
              "labelExpr": "utchours(datum.value) % 6 == 0 ? [utcFormat(datum.value, '%m/%d'), utcFormat(datum.value, '%H:%M')] : ''",
              "tickSize": {"condition": {"test": "utchours(datum.value) % 6 == 0", "value": -5}, "value": -3},
              "labelPadding": 12, "labelFlush": false, "labelOverlap": false, "labelBound": false, "labelLineHeight": 14, "labelBaseline": "top"}},
            "y": {"field": "v", "type": "quantitative", "axis": {"orient": "left", "title": "Percentage", "values": [10, 20, 30, 40, 50, 60, 70, 80, 90, 100], "tickCount": 12, "tickSize": -5, "labelPadding": 9, "labelFontSize": 11, "labelFlush": false, "titlePadding": 14}},
            "color": {"field": "s", "type": "nominal", "scale": {"domain": ["F7415 Analysis", "F7415"], "range": ["#ff0000", "#0a80ff"]}},
            "detail": {"field": "g"}
          }
        }
      ]
    },
    {
      "data": {"name": "rh"},
      "transform": [{"filter": "datum.s == 'F7415'"}],
      "mark": {"type": "line", "strokeWidth": 1},
      "encoding": {
        "x": {"field": "t", "type": "temporal", "axis": {"orient": "top", "title": null, "labels": false,
          "values": [1741824000000, 1741831200000, 1741838400000, 1741845600000, 1741852800000, 1741860000000, 1741867200000, 1741874400000, 1741881600000, 1741888800000, 1741896000000, 1741903200000, 1741910400000, 1741917600000, 1741924800000, 1741932000000, 1741939200000, 1741946400000, 1741953600000, 1741960800000, 1741968000000, 1741975200000, 1741982400000, 1741989600000, 1741996800000, 1742004000000, 1742011200000, 1742018400000, 1742025600000, 1742032800000, 1742040000000, 1742047200000, 1742054400000, 1742061600000, 1742068800000, 1742076000000, 1742083200000],
          "tickCount": 40,
          "tickSize": {"condition": {"test": "utchours(datum.value) % 6 == 0", "value": -5}, "value": -3}}},
        "y": {"field": "v", "type": "quantitative", "axis": {"orient": "right", "title": null, "labels": false, "values": [10, 20, 30, 40, 50, 60, 70, 80, 90, 100], "tickCount": 12, "tickSize": -5}},
        "color": {"field": "s", "type": "nominal"}
      }
    }
  ],
  "resolve": {"axis": {"x": "independent", "y": "independent"}}
}
